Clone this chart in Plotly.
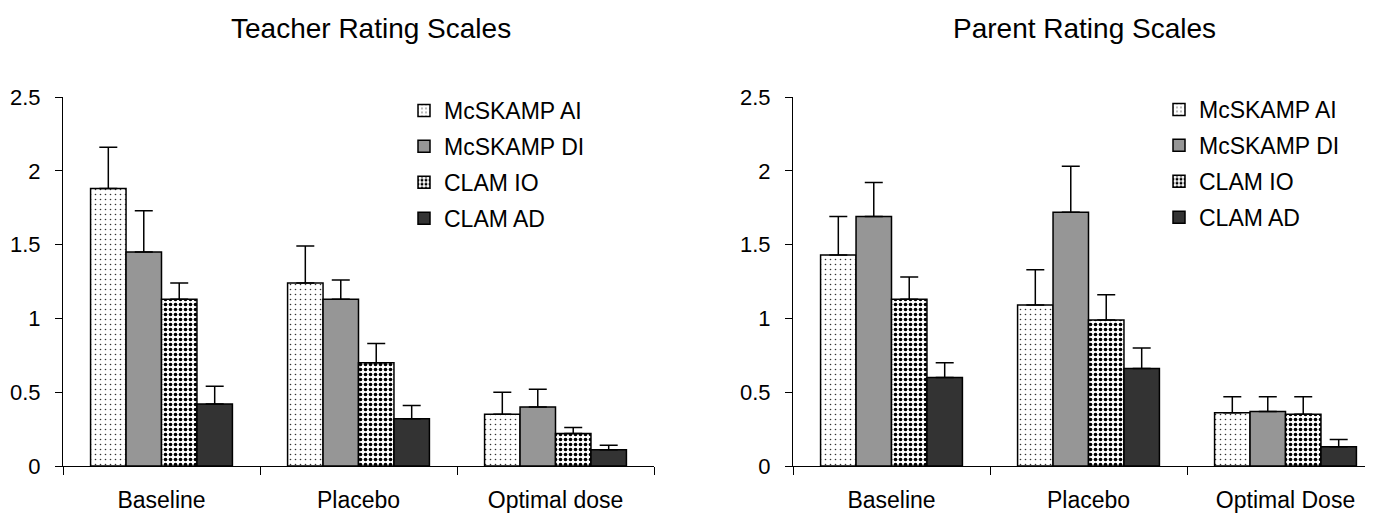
import plotly.graph_objects as go

# ---------------- data ----------------
teacher_categories = ["Baseline", "Placebo", "Optimal dose"]
parent_categories = ["Baseline", "Placebo", "Optimal Dose"]
series_names = ["McSKAMP AI", "McSKAMP DI", "CLAM IO", "CLAM AD"]
y_tick_values = [0, 0.5, 1, 1.5, 2, 2.5]
y_tick_labels = ["0", "0.5", "1", "1.5", "2", "2.5"]

teacher_ai = [1.88, 1.24, 0.35]
teacher_ai_err = [0.28, 0.25, 0.15]
teacher_di = [1.45, 1.13, 0.40]
teacher_di_err = [0.28, 0.13, 0.12]
teacher_io = [1.13, 0.70, 0.22]
teacher_io_err = [0.11, 0.13, 0.04]
teacher_ad = [0.42, 0.32, 0.11]
teacher_ad_err = [0.12, 0.09, 0.03]

parent_ai = [1.43, 1.09, 0.36]
parent_ai_err = [0.26, 0.24, 0.11]
parent_di = [1.69, 1.72, 0.37]
parent_di_err = [0.23, 0.31, 0.10]
parent_io = [1.13, 0.99, 0.35]
parent_io_err = [0.15, 0.17, 0.12]
parent_ad = [0.60, 0.66, 0.13]
parent_ad_err = [0.10, 0.14, 0.05]

# ---------------- layout geometry ----------------
OFF = 8                      # page body margin of the html page
W, H = 1373 - OFF, 514 - OFF
FONT = "Liberation Sans, Arial, sans-serif"


def px(xp):
    return (xp - OFF) / W


def py(yp):
    return (H - (yp - OFF)) / H


styles = [
    dict(color="white", pattern=dict(shape=".", fgcolor="#333333", bgcolor="white",
                                     fgopacity=1, size=5, solidity=0.08,
                                     fillmode="overlay")),
    dict(color="#969696"),
    dict(color="white", pattern=dict(shape=".", fgcolor="black", bgcolor="white",
                                     fgopacity=1, size=5, solidity=0.42,
                                     fillmode="overlay")),
    dict(color="#333333"),
]

fig = go.Figure()

panels = [
    ("x", "y", "legend", teacher_categories,
     [teacher_ai, teacher_di, teacher_io, teacher_ad],
     [teacher_ai_err, teacher_di_err, teacher_io_err, teacher_ad_err]),
    ("x2", "y2", "legend2", parent_categories,
     [parent_ai, parent_di, parent_io, parent_ad],
     [parent_ai_err, parent_di_err, parent_io_err, parent_ad_err]),
]

for xa, ya, leg, cats, vals, errs in panels:
    for i, name in enumerate(series_names):
        st = styles[i]
        marker = dict(color=st["color"], line=dict(color="black", width=1.5))
        if "pattern" in st:
            marker["pattern"] = st["pattern"]
        fig.add_trace(go.Bar(
            x=cats, y=vals[i], name=name, xaxis=xa, yaxis=ya,
            marker=marker, legend=leg, legendgroup=leg + name,
            error_y=dict(type="data", symmetric=False, array=errs[i],
                         arrayminus=[0] * len(errs[i]), color="black",
                         thickness=1.5, width=9),
        ))

y0 = py(466)
y1 = py(97)
left_dom = [px(63), px(654)]
right_dom = [px(793), 1.0]
cat_px = (654 - 63) / 3.0

common_x = dict(showline=True, linecolor="black", linewidth=1.2, ticks="outside",
                ticklen=8, tickcolor="black", tickwidth=1.2, tickson="boundaries",
                showgrid=False, zeroline=False,
                tickfont=dict(family=FONT, size=23, color="black"),
                type="category", fixedrange=True, automargin=False,
                ticklabelstandoff=13)
common_y = dict(showline=True, linecolor="black", linewidth=1.2, ticks="outside",
                ticklen=7, tickcolor="black", tickwidth=1.2, showgrid=False,
                zeroline=False, range=[0, 2.5], tickvals=y_tick_values,
                ticktext=y_tick_labels,
                tickfont=dict(family=FONT, size=22, color="black"),
                domain=[y0, y1], ticklabelstandoff=10, fixedrange=True,
                automargin=False)

xaxis = dict(common_x, domain=left_dom, anchor="y", range=[-0.5, 2.5])
xaxis2 = dict(common_x, domain=right_dom, anchor="y2",
              range=[-0.5, -0.5 + (1373 - 793) / cat_px])
yaxis = dict(common_y, anchor="x")
yaxis2 = dict(common_y, anchor="x2")

legend_common = dict(font=dict(family=FONT, size=23, color="black"),
                     bgcolor="rgba(0,0,0,0)", traceorder="grouped",
                     tracegroupgap=3, xanchor="left", yanchor="top",
                     itemclick=False, itemdoubleclick=False)

fig.update_layout(
    width=W, height=H,
    margin=dict(l=0, r=0, t=0, b=0, autoexpand=False),
    paper_bgcolor="white", plot_bgcolor="white",
    barmode="group", bargap=0.28, bargroupgap=0,
    font=dict(family=FONT, color="black"),
    xaxis=xaxis, yaxis=yaxis, xaxis2=xaxis2, yaxis2=yaxis2,
    legend=dict(legend_common, x=px(404), y=py(89)),
    legend2=dict(legend_common, x=px(1159), y=py(88)),
    showlegend=True,
    annotations=[
        dict(text="Teacher Rating Scales", x=px(371), y=py(29),
             xref="paper", yref="paper", showarrow=False,
             xanchor="center", yanchor="middle",
             font=dict(family=FONT, size=28, color="black")),
        dict(text="Parent Rating Scales", x=px(1084), y=py(29),
             xref="paper", yref="paper", showarrow=False,
             xanchor="center", yanchor="middle",
             font=dict(family=FONT, size=28, color="black")),
    ],
)

fig.write_html("out.html")
